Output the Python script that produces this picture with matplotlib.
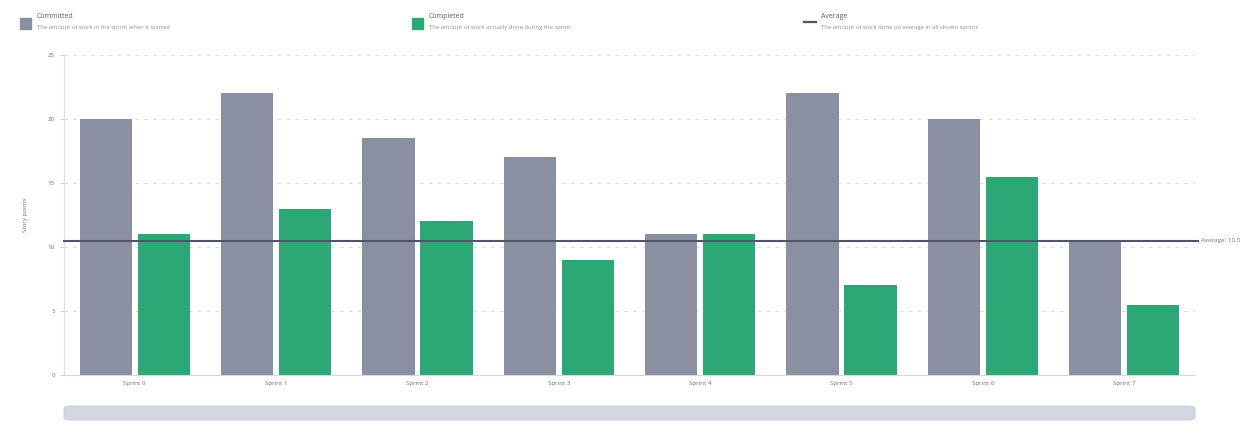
import matplotlib
matplotlib.use("Agg")
import matplotlib.pyplot as plt
import numpy as np
from matplotlib.patches import FancyBboxPatch, Rectangle
from matplotlib.lines import Line2D

categories = ["Sprint 0", "Sprint 1", "Sprint 2", "Sprint 3", "Sprint 4", "Sprint 5", "Sprint 6", "Sprint 7"]
committed = [20, 22, 18.5, 17, 11, 22, 20, 10.5]
completed = [11, 13, 12, 9, 11, 7, 15.5, 5.5]
average = 10.5
y_ticks = [0, 5, 10, 15, 20, 25]

legend_titles = ["Committed", "Completed", "Average"]
legend_desc = ["The amount of work in the sprint when it started",
               "The amount of work actually done during the sprint",
               "The amount of work done on average in all shown sprints"]

c_commit = "#8a90a1"
c_done = "#2ba876"
c_avg = "#4d5566"
c_text = "#707070"

plt.rcParams['font.family'] = ['Open Sans', 'DejaVu Sans']

fig = plt.figure(figsize=(12.57, 4.24), dpi=100)
ax = fig.add_axes([64/1257, 1-375/424, (1195-64)/1257, (375-55)/424])

x = np.arange(len(categories))
w = 0.37
gap = 0.02
ax.bar(x - w/2 - gap, committed, w, color=c_commit, zorder=2)
ax.bar(x + w/2 + gap, completed, w, color=c_done, zorder=2)
ax.axhline(average, color=c_avg, lw=1.5, zorder=3, xmin=0, xmax=1.003, clip_on=False)
ax.text(1.005, average, f"Average: {average}", transform=ax.get_yaxis_transform(),
        fontsize=4.5, color=c_text, va="center", ha="left")

ax.set_xlim(-0.5, len(categories) - 0.5)
ax.set_ylim(0, 25)
ax.set_yticks(y_ticks)
ax.set_yticklabels([str(t) for t in y_ticks])
ax.set_xticks(x)
ax.set_xticklabels(categories)
ax.tick_params(axis='both', labelsize=4.5, colors="#c8c8c8", labelcolor=c_text, length=3, width=0.6)
ax.tick_params(axis='x', length=0, pad=4)
for yt in y_ticks[1:]:
    ax.axhline(yt, color="#dcdcdc", lw=0.8, ls=(0, (3, 5)), zorder=1)
for s in ["top", "right"]:
    ax.spines[s].set_visible(False)
ax.spines["left"].set_color("#e0e0e0")
ax.spines["bottom"].set_color("#d8d8d8")
ax.spines["left"].set_linewidth(0.8)
ax.spines["bottom"].set_linewidth(0.8)
ax.set_ylabel("Story points", fontsize=4.5, color=c_text, labelpad=14)

# Legend (custom, in figure coordinates)
leg_x = [20/1257, 412/1257, 804/1257]
for i in range(3):
    lx = leg_x[i]
    if i < 2:
        fig.patches.append(Rectangle((lx, 1-29/424), 11/1257, 11/424,
                                     transform=fig.transFigure, color=[c_commit, c_done][i]))
    else:
        fig.lines.append(Line2D([lx, lx + 12/1257], [1-22/424, 1-22/424],
                                transform=fig.transFigure, color=c_avg, lw=1.6))
    fig.text(lx + 17/1257, 1-16/424, legend_titles[i], fontsize=5, color="#606060", va="center")
    fig.text(lx + 17/1257, 1-28/424, legend_desc[i], fontsize=4.2, color="#909090", va="center")

# Scrollbar
fig.patches.append(FancyBboxPatch((64/1257, 1-420/424), (1195-64)/1257, 14/424,
                                  boxstyle="round,pad=0,rounding_size=0.006",
                                  transform=fig.transFigure, facecolor="#d3d8e0",
                                  edgecolor="#c4cad5", lw=0.6))

fig.savefig("out.png", dpi=100, facecolor="white")
